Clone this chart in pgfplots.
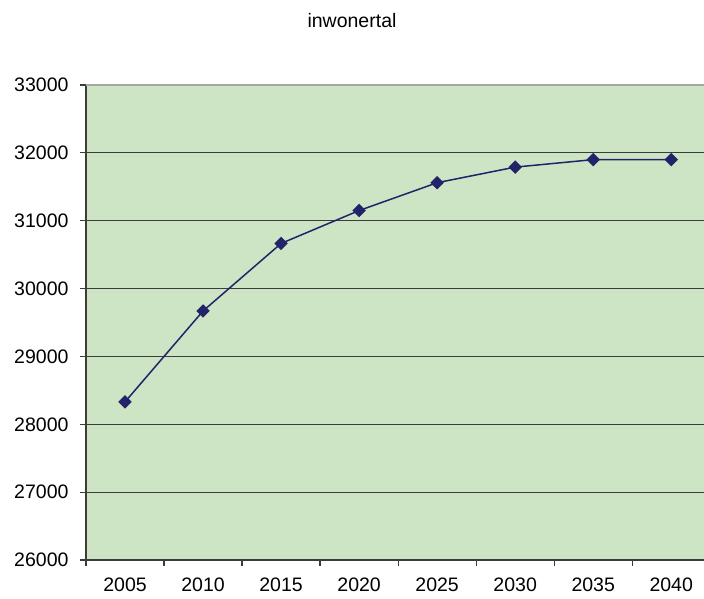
\documentclass[border=0pt]{standalone}
\usepackage{pgfplots}
\pgfplotsset{compat=1.18}
\usepackage{fontspec}
\setmainfont{Liberation Sans}
\definecolor{plotbg}{RGB}{205,229,197}
\definecolor{navy}{RGB}{35,35,105}
\definecolor{gridc}{RGB}{60,60,60}
\begin{document}
\begin{tikzpicture}[x=1pt,y=1pt]
\useasboundingbox (0,0) rectangle (704,598);
\node[anchor=base] at (352,570) {\fontsize{19.5}{22}\selectfont inwonertal};
\begin{axis}[
    at={(86pt,38pt)}, anchor=south west,
    scale only axis,
    width=618pt, height=475pt,
    xmin=-0.5, xmax=7.42,
    ymin=26000, ymax=33000,
    axis lines=left,
    axis line style={-, gridc, line width=1.2pt},
    axis background/.style={fill=plotbg},
    xtick={0,...,7},
    xticklabels={2005,2010,2015,2020,2025,2030,2035,2040},
    minor xtick={-0.5,0.5,...,6.5},
    ytick={26000,27000,...,33000},
    scaled y ticks=false,
    yticklabel={\pgfmathprintnumber[fixed,precision=0,1000 sep={}]{\tick}},
    tick align=outside,
    major tick length=6pt,
    minor tick length=6pt,
    x tick style={draw=none},
    minor x tick style={draw=gridc, line width=1.2pt},
    y tick style={gridc, line width=1.2pt},
    ymajorgrids,
    major grid style={gridc, line width=1.1pt},
    /pgf/number format/assume math mode=true,
    /pgf/number format/1000 sep={},
    tick label style={font=\fontsize{19.5}{22}\selectfont},
    xticklabel style={yshift=-11pt, inner sep=1pt},
    yticklabel style={xshift=-8pt},
    clip=false,
]
\addplot[navy, line width=1.5pt, mark=square*, mark size=4pt,
    mark options={rotate=45, fill=navy, draw=navy}]
    coordinates {(0,28330) (1,29670) (2,30665) (3,31150) (4,31560) (5,31790) (6,31900) (7,31900)};
\draw[gray!70, line width=1.6pt] (axis cs:-0.5,33000) -- (axis cs:7.42,33000);
\end{axis}
\end{tikzpicture}
\end{document}
